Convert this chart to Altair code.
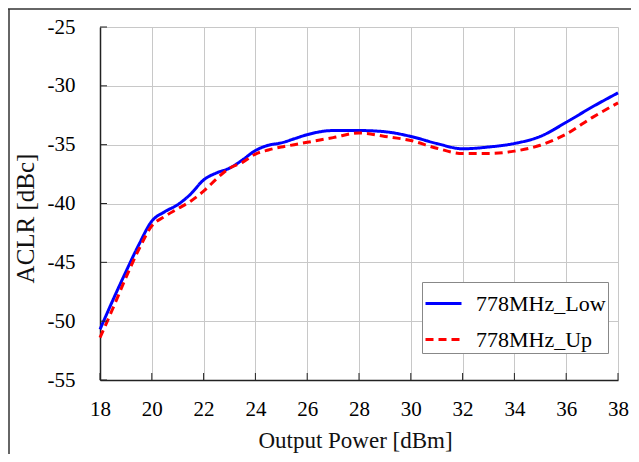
import altair as alt
import pandas as pd

# Output power [dBm]
power = [18, 18.5, 19, 19.5, 20, 20.5, 21, 21.5, 22, 22.5, 23, 23.5, 24, 24.5, 25, 25.5,
         26, 27, 28, 29, 30, 31, 32, 33, 34, 35, 36, 37, 38]
# ACLR [dBc], 778MHz lower channel
aclr_low = [-50.7, -48.2, -45.8, -43.5, -41.5, -40.7, -40.1, -39.2, -38.0, -37.4, -37.0, -36.3,
            -35.5, -35.05, -34.85, -34.5, -34.15, -33.8, -33.8, -33.9, -34.3, -34.9, -35.35,
            -35.2, -34.9, -34.3, -33.1, -31.8, -30.6]
# ACLR [dBc], 778MHz upper channel
aclr_up = [-51.4, -48.9, -46.3, -43.9, -41.9, -41.1, -40.45, -39.8, -38.95, -37.9, -37.0, -36.5,
           -35.8, -35.45, -35.2, -35.0, -34.8, -34.4, -34.0, -34.3, -34.65, -35.3, -35.75,
           -35.75, -35.55, -35.05, -34.1, -32.7, -31.45]
series_names = ["778MHz_Low", "778MHz_Up"]
x_ticks = [18, 20, 22, 24, 26, 28, 30, 32, 34, 36, 38]
y_ticks = [-55, -50, -45, -40, -35, -30, -25]

W, H = 518, 353
FONT = "Liberation Serif"

df = pd.concat([
    pd.DataFrame({"power": power, "aclr": aclr_low, "series": series_names[0]}),
    pd.DataFrame({"power": power, "aclr": aclr_up, "series": series_names[1]}),
])

xscale = alt.Scale(domain=[18, 38], nice=False)
yscale = alt.Scale(domain=[-55, -25], nice=False)

legend = alt.Legend(
    orient="none", legendX=322, legendY=255, title=None,
    symbolType="stroke", symbolSize=1296, symbolStrokeWidth=3,
    labelFont=FONT, labelFontSize=22, labelColor="black", labelOffset=13,
    padding=2, rowPadding=5, strokeColor="#888888", fillColor="white",
)

lines = alt.Chart(df).mark_line(strokeWidth=3, interpolate="monotone").encode(
    x=alt.X("power:Q", scale=xscale,
            axis=alt.Axis(values=x_ticks, title="Output Power [dBm]", grid=True,
                          ticks=False, tickSize=0, labelPadding=18,
                          labelFont=FONT, labelFontSize=21, labelColor="black",
                          labelExpr="'' + datum.value", labelFlush=False,
                          titleFont=FONT, titleFontSize=23, titleY=67, titleX=255,
                          titleBaseline="alphabetic")),
    y=alt.Y("aclr:Q", scale=yscale,
            axis=alt.Axis(values=y_ticks, title="ACLR [dBc]", grid=True,
                          ticks=False, tickSize=0, labelPadding=25,
                          labelFont=FONT, labelFontSize=21, labelColor="black",
                          labelExpr="'' + datum.value", labelFlush=False,
                          titleFont=FONT, titleFontSize=25, titleX=-67, titleY=191,
                          titleAngle=270, titleAlign="center",
                          titleBaseline="alphabetic")),
    color=alt.Color("series:N", scale=alt.Scale(domain=series_names, range=["#0000ff", "#ff0000"]),
                    legend=legend),
    strokeDash=alt.StrokeDash("series:N",
                              scale=alt.Scale(domain=series_names, range=[[1, 0], [8, 5]]),
                              legend=legend),
)

xt = pd.DataFrame({"v": x_ticks})
yt = pd.DataFrame({"v": y_ticks})
xtick_marks = alt.Chart(xt).mark_rule(color="#222222", strokeWidth=1).encode(
    x=alt.X("v:Q", scale=xscale), y=alt.value(H), y2=alt.value(H - 7))
ytick_marks = alt.Chart(yt).mark_rule(color="#222222", strokeWidth=1).encode(
    y=alt.Y("v:Q", scale=yscale), x=alt.value(0), x2=alt.value(7))

frame_df = pd.DataFrame({"a": [0]})
frame_top = alt.Chart(frame_df).mark_rule(color="#333333", strokeWidth=1.5).encode(
    x=alt.value(-92), x2=alt.value(545), y=alt.value(-18))
frame_left = alt.Chart(frame_df).mark_rule(color="#333333", strokeWidth=1.5).encode(
    x=alt.value(-91), y=alt.value(-18), y2=alt.value(460))

chart = alt.layer(frame_top, frame_left, lines, xtick_marks, ytick_marks).properties(
    width=W, height=H, autosize="none",
    padding={"left": 92, "top": 19, "right": 13, "bottom": 74},
).configure_view(strokeWidth=0).configure_axis(
    labelFont=FONT, labelFontSize=21, labelColor="black",
    titleFont=FONT, titleColor="#111111", titleFontWeight="normal",
    gridColor="#c8c8c8", gridWidth=1, domainColor="#222222", domainWidth=1.5,
).configure_text(font=FONT)

chart.save("out.html", embed_options={"renderer": "svg", "actions": False})
